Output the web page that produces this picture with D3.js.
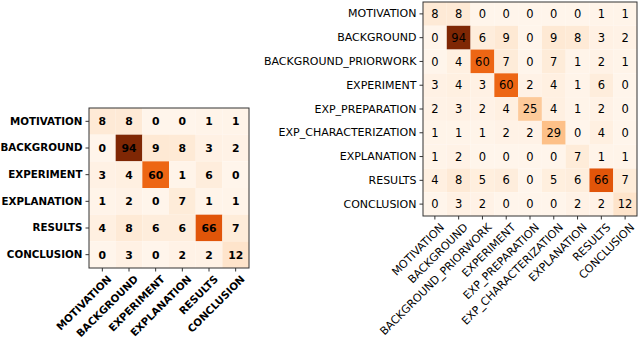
<!DOCTYPE html>
<html>
<head>
<meta charset="utf-8">
<script src="https://cdn.jsdelivr.net/npm/d3@7"></script>
<style>
  body { margin: 0; background: #fff; }
  svg { display: block; font-family: "DejaVu Sans", sans-serif; }
</style>
</head>
<body>
<svg id="chart" width="640" height="338"></svg>
<script>
// left matrix (6 classes)
var leftLabels = ["MOTIVATION", "BACKGROUND", "EXPERIMENT", "EXPLANATION", "RESULTS", "CONCLUSION"]
var leftValues = [
  [8, 8, 0, 0, 1, 1],
  [0, 94, 9, 8, 3, 2],
  [3, 4, 60, 1, 6, 0],
  [1, 2, 0, 7, 1, 1],
  [4, 8, 6, 6, 66, 7],
  [0, 3, 0, 2, 2, 12]
]

// right matrix (9 classes)
var rightLabels = ["MOTIVATION", "BACKGROUND", "BACKGROUND_PRIORWORK", "EXPERIMENT", "EXP_PREPARATION",
  "EXP_CHARACTERIZATION", "EXPLANATION", "RESULTS", "CONCLUSION"]
var rightValues = [
  [8, 8, 0, 0, 0, 0, 0, 1, 1],
  [0, 94, 6, 9, 0, 9, 8, 3, 2],
  [0, 4, 60, 7, 0, 7, 1, 2, 1],
  [3, 4, 3, 60, 2, 4, 1, 6, 0],
  [2, 3, 2, 4, 25, 4, 1, 2, 0],
  [1, 1, 1, 2, 2, 29, 0, 4, 0],
  [1, 2, 0, 0, 0, 0, 7, 1, 1],
  [4, 8, 5, 6, 0, 5, 6, 66, 7],
  [0, 3, 2, 0, 0, 0, 2, 2, 12]
]

var svg = d3.select("#chart")

function drawMatrix(labels, values, x0, y0, size, bold, fs) {
  var g = svg.append("g").attr("transform", "translate(" + x0 + "," + y0 + ")")
  var x = d3.scaleBand().domain(labels).range([0, size])
  var y = d3.scaleBand().domain(labels).range([0, size])
  var maxV = d3.max(values, function(r) { return d3.max(r) })
  var color = d3.scaleSequential(d3.interpolateOranges).domain([0, maxV])

  var cells = []
  values.forEach(function(row, i) {
    row.forEach(function(v, j) {
      cells.push({ r: labels[i], c: labels[j], v: v })
    })
  })

  g.selectAll("rect.cell").data(cells).enter()
    .append("rect")
    .attr("class", "cell")
    .attr("x", function(d) { return x(d.c) })
    .attr("y", function(d) { return y(d.r) })
    .attr("width", x.bandwidth())
    .attr("height", y.bandwidth())
    .attr("fill", function(d) { return color(d.v) })

  g.selectAll("text.val").data(cells).enter()
    .append("text")
    .attr("class", "val")
    .attr("x", function(d) { return x(d.c) + x.bandwidth() / 2 })
    .attr("y", function(d) { return y(d.r) + y.bandwidth() / 2 })
    .attr("dy", "0.36em")
    .attr("text-anchor", "middle")
    .attr("font-size", fs + 0.5)
    .attr("font-weight", bold ? "bold" : "normal")
    .attr("fill", "#000")
    .text(function(d) { return d.v })

  // frame
  g.append("rect")
    .attr("x", 0).attr("y", 0)
    .attr("width", size).attr("height", size)
    .attr("fill", "none")
    .attr("stroke", "#333")
    .attr("stroke-width", 1)

  var ya = g.append("g").call(d3.axisLeft(y).tickSize(3.5).tickPadding(3))
  ya.select(".domain").remove()
  ya.selectAll("text")
    .attr("font-size", fs)
    .attr("font-weight", bold ? "bold" : "normal")
    .attr("fill", "#000")
    .attr("font-family", "DejaVu Sans")

  var xa = g.append("g").attr("transform", "translate(0," + size + ")")
    .call(d3.axisBottom(x).tickSize(3.5).tickPadding(3))
  xa.select(".domain").remove()
  xa.selectAll("text")
    .attr("font-size", fs)
    .attr("font-weight", bold ? "bold" : "normal")
    .attr("fill", "#000")
    .attr("font-family", "DejaVu Sans")
    .attr("text-anchor", "end")
    .attr("dy", "0.3em")
    .attr("transform", "translate(3,5) rotate(-45)")
  g.selectAll(".tick line").attr("stroke", "#333")
}

drawMatrix(leftLabels, leftValues, 89, 108, 160, true, 10.3)
drawMatrix(rightLabels, rightValues, 423, 2, 214, false, 11)
</script>
</body>
</html>
